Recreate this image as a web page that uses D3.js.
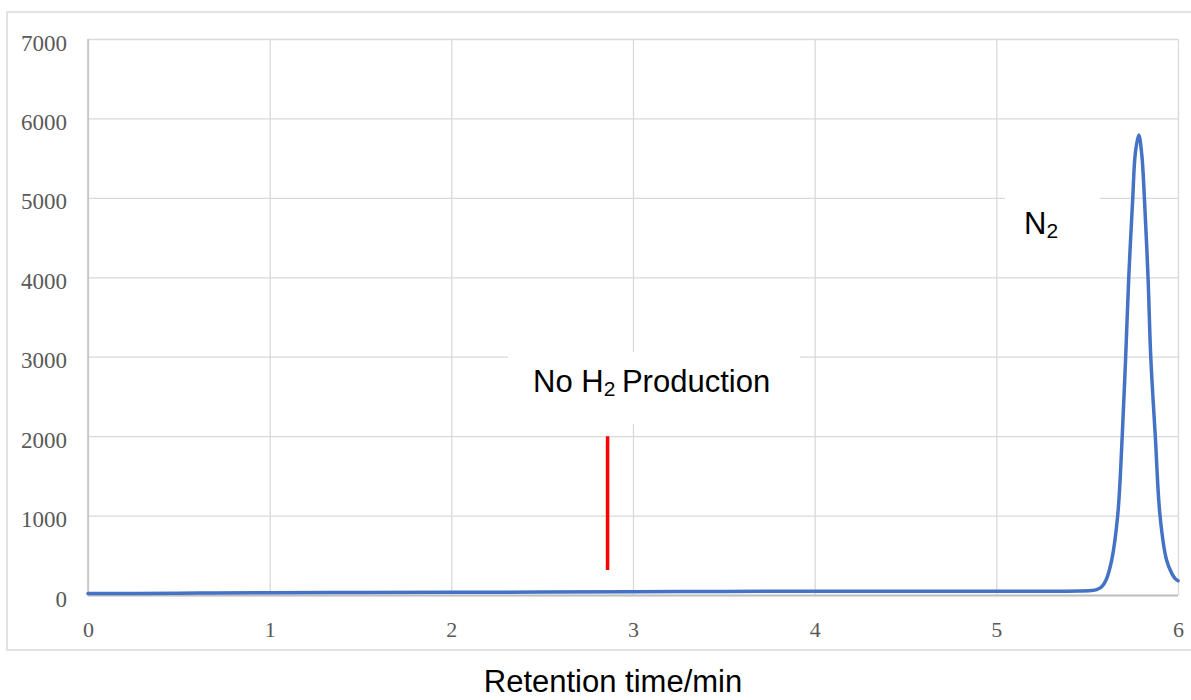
<!DOCTYPE html>
<html>
<head>
<meta charset="utf-8">
<script src="https://cdn.jsdelivr.net/npm/d3@7"></script>
<style>
  html, body { margin: 0; padding: 0; background: #fff; }
  svg { display: block; }
</style>
</head>
<body>
<svg id="chart" width="1191" height="700"></svg>
<script>
// ---- data ----
const retentionTime = [0, 0.5, 0.7, 1, 1.5, 2, 2.5, 3, 3.5, 4, 4.5, 5, 5.3, 5.46, 5.52, 5.552, 5.58, 5.604,
  5.635, 5.668, 5.693, 5.712, 5.729, 5.751, 5.765, 5.784, 5.800, 5.815, 5.835, 5.850, 5.875, 5.901,
  5.937, 5.965, 5.983, 6.0];
const signal = [20, 21, 26, 28, 31, 34, 37, 40, 45, 47, 47, 47, 48, 50, 56, 68, 105, 190,
  440, 1000, 2000, 3000, 4000, 5000, 5560, 5790, 5560, 5000, 4000, 3000, 2000, 1000,
  440, 275, 210, 180];
const xTicks = [0, 1, 2, 3, 4, 5, 6];
const yTicks = [0, 1000, 2000, 3000, 4000, 5000, 6000, 7000];
const markerTime = 2.86;          // red "No H2" marker
const markerRange = [315, 2000];
const xTitle = "Retention time/min";

(function () {
// ---- layout ----
const svg = d3.select("#chart");
const pL = 88, pR = 1178, pT = 39, pB = 595;
const x = d3.scaleLinear().domain([0, 6]).range([pL, pR]);
const y = d3.scaleLinear().domain([0, 7000]).range([pB, pT]);

// outer chart border
svg.append("rect").attr("x", 7).attr("y", 12).attr("width", 1200).attr("height", 638)
  .attr("fill", "none").attr("stroke", "#d9d9d9").attr("stroke-width", 1.5);

// y axis + horizontal gridlines
const gy = svg.append("g").attr("transform", `translate(${pL},0)`)
  .call(d3.axisLeft(y).tickValues(yTicks).tickSize(-(pR - pL)).tickPadding(21).tickFormat(d3.format("d")));
gy.select(".domain").remove();
gy.selectAll(".tick line").attr("stroke", "#d9d9d9").attr("stroke-width", 1.3);
gy.selectAll(".tick text").attr("dy", "0.48em")
  .attr("font-family", "'Liberation Serif', 'Times New Roman', serif")
  .attr("font-size", 23).attr("fill", "#595959");

// x axis + vertical gridlines
const gx = svg.append("g").attr("transform", `translate(0,${pB})`)
  .call(d3.axisBottom(x).tickValues(xTicks).tickSize(-(pB - pT)).tickFormat(d3.format("d")));
gx.select(".domain").remove();
gx.selectAll(".tick line").attr("stroke", "#d9d9d9").attr("stroke-width", 1.3);
gx.selectAll(".tick text").attr("y", 42).attr("dy", null)
  .attr("font-family", "'Liberation Serif', 'Times New Roman', serif")
  .attr("font-size", 22).attr("fill", "#595959");

// axis lines
svg.append("line").attr("x1", pL).attr("x2", pL).attr("y1", pT).attr("y2", pB + 1)
  .attr("stroke", "#bfbfbf").attr("stroke-width", 1.5);
svg.append("line").attr("x1", pL).attr("x2", pR).attr("y1", pB + 0.5).attr("y2", pB + 0.5)
  .attr("stroke", "#bfbfbf").attr("stroke-width", 2);

// label boxes (white, hide gridlines)
svg.append("rect").attr("x", 508).attr("y", 352).attr("width", 292).attr("height", 72).attr("fill", "#fff");
svg.append("rect").attr("x", 1005).attr("y", 188).attr("width", 95).attr("height", 66).attr("fill", "#fff");

// chromatogram trace
const pts = retentionTime.map((t, i) => [t, signal[i]]);
const line = d3.line().x(d => x(d[0])).y(d => y(d[1])).curve(d3.curveCatmullRom.alpha(0.5));
svg.append("path").datum(pts).attr("d", line)
  .attr("fill", "none").attr("stroke", "#4472c4").attr("stroke-width", 3.5)
  .attr("stroke-linejoin", "round").attr("stroke-linecap", "round");

// red marker
svg.append("line").attr("x1", x(markerTime)).attr("x2", x(markerTime))
  .attr("y1", y(markerRange[0])).attr("y2", y(markerRange[1]))
  .attr("stroke", "#ff0000").attr("stroke-width", 3.5);

const sans = "'Liberation Sans', Arial, sans-serif";
// "No H2 Production"
const t1 = svg.append("text").attr("x", 533).attr("y", 391.5)
  .attr("font-family", sans).attr("font-size", 31).attr("fill", "#000");
t1.append("tspan").text("No H");
t1.append("tspan").attr("dy", 4).attr("font-size", 21).text("2");
t1.append("tspan").attr("dy", -4).attr("dx", -2).text(" Production");

// "N2"
const t2 = svg.append("text").attr("x", 1024).attr("y", 234)
  .attr("font-family", sans).attr("font-size", 31).attr("fill", "#000");
t2.append("tspan").text("N");
t2.append("tspan").attr("dy", 4).attr("font-size", 21).text("2");

// x axis title
svg.append("text").attr("x", 613).attr("y", 692).attr("text-anchor", "middle")
  .attr("font-family", sans).attr("font-size", 31).attr("fill", "#000").text(xTitle);
})();
</script>
</body>
</html>
